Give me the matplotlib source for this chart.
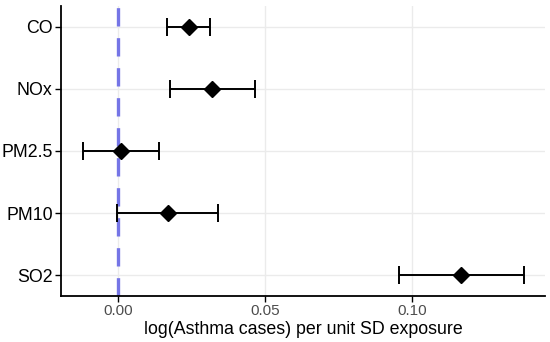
import matplotlib
matplotlib.use("Agg")
import matplotlib.pyplot as plt
import numpy as np

# ---------------------------------------------------------------------------
# Data - effect estimates and 95% CI per pollutant (top to bottom)
# ---------------------------------------------------------------------------
pollutants = ["CO", "NOx", "PM2.5", "PM10", "SO2"]
estimate   = [0.0242, 0.0321, 0.0009, 0.0169, 0.1168]
ci_low     = [0.0168, 0.0177, -0.0120, -0.0003, 0.0956]
ci_high    = [0.0314, 0.0467, 0.0140, 0.0340, 0.1382]
xticks     = [0.00, 0.05, 0.10]
xticklabels = ["0.00", "0.05", "0.10"]

plt.rcParams["font.family"] = ["Liberation Sans", "DejaVu Sans"]

fig = plt.figure(figsize=(5.5, 3.42), dpi=100)
ax = fig.add_axes([0.111, 0.135, 0.880, 0.847])

ypos = np.arange(len(pollutants))[::-1]   # CO on top
est = np.array(estimate)
lo = est - np.array(ci_low)
hi = np.array(ci_high) - est

ax.errorbar(est, ypos, xerr=[lo, hi], fmt="none", ecolor="black",
            elinewidth=1.4, capsize=6.5, capthick=1.4, zorder=3)
ax.plot(est, ypos, "D", color="black", markersize=8.5, zorder=4)
ax.axvline(0, color="#7575e6", lw=2.4, ls=(0, (5.5, 3.5)), zorder=2)

ax.set_xlim(-0.0194, 0.1454)
ax.set_ylim(-0.33, len(pollutants) - 1 + 0.33)
ax.set_xticks(xticks, xticklabels)
ax.set_yticks(ypos, pollutants)

ax.grid(True, color="#ebebeb", lw=1.0, zorder=0)
ax.set_axisbelow(True)
for s in ["top", "right"]:
    ax.spines[s].set_visible(False)
for s in ["left", "bottom"]:
    ax.spines[s].set_linewidth(1.3)

ax.tick_params(axis="y", labelsize=12.8, colors="black", length=4, width=1.0, pad=2)
ax.tick_params(axis="x", labelsize=11, labelcolor="#4d4d4d", length=4, width=1.0, pad=2)
ax.set_xlabel("log(Asthma cases) per unit SD exposure", fontsize=12.8, labelpad=2)

fig.savefig("out.png", dpi=100)
